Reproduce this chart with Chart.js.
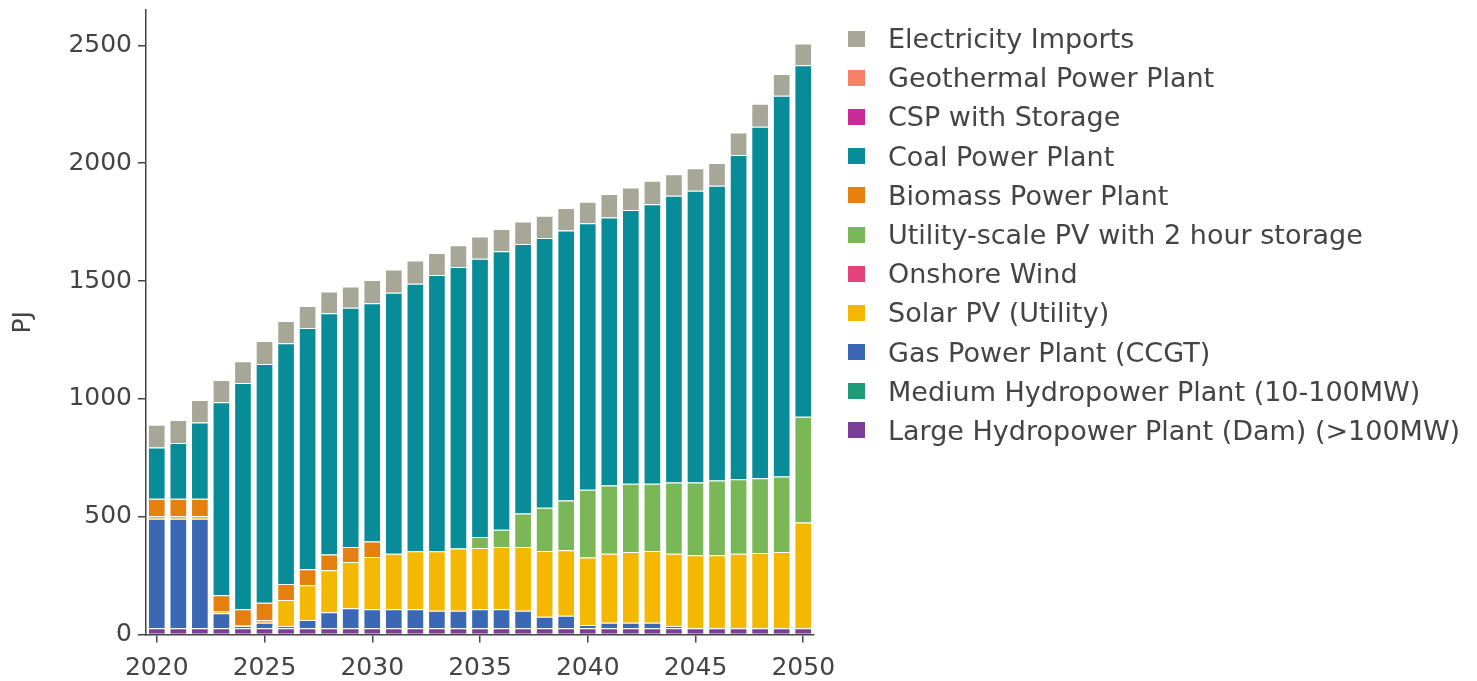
<!DOCTYPE html>
<html>
<head>
<meta charset="utf-8">
<script src="https://cdn.jsdelivr.net/npm/chart.js@4.4.1/dist/chart.umd.min.js"></script>
<style>
  body { margin: 0; background: #fff; }
  #wrap { position: relative; width: 1477px; height: 681px; }
  #legend { position: absolute; left: 848px; top: 19px; font-family: "DejaVu Sans", Verdana, sans-serif; font-size: 27px; color: #444; }
  #legend div { height: 39.2px; display: flex; align-items: center; white-space: nowrap; }
  #legend span.box { display: inline-block; width: 17px; height: 16px; margin-right: 23px; }
</style>
</head>
<body>
<div id="wrap">
  <canvas id="chart" width="1477" height="681"></canvas>
  <div id="legend"></div>
</div>
<script>
const years = [];
for (let y = 2020; y <= 2050; y++) years.push(String(y));

const largeHydro = [26, 26, 26, 26, 26, 26, 26, 26, 26, 26, 26, 26, 26, 26, 26, 26, 26, 26, 26, 26, 26, 26, 26, 26, 26, 26, 26, 26, 26, 26, 26];
const mediumHydro = [0, 0, 0, 0, 0, 0, 0, 0, 0, 0, 0, 0, 0, 0, 0, 0, 0, 0, 0, 0, 0, 0, 0, 0, 0, 0, 0, 0, 0, 0, 0];
const gasCcgt = [465, 465, 465, 64, 10, 24, 10, 35, 68, 85, 81, 81, 81, 75, 75, 81, 81, 75, 49, 54, 14, 24, 24, 24, 10, 0, 0, 0, 0, 0, 0];
const solarPv = [12, 12, 12, 8, 4, 11, 110, 148, 179, 197, 222, 236, 246, 252, 264, 260, 264, 270, 279, 277, 287, 293, 300, 304, 307, 310, 310, 317, 320, 324, 449];
const onshoreWind = [0, 0, 0, 0, 0, 0, 0, 0, 0, 0, 0, 0, 0, 0, 0, 0, 0, 0, 0, 0, 0, 0, 0, 0, 0, 0, 0, 0, 0, 0, 0];
const pvStorage = [0, 0, 0, 0, 0, 0, 0, 0, 0, 0, 0, 0, 0, 0, 0, 47, 74, 142, 184, 212, 287, 289, 290, 286, 302, 309, 318, 316, 317, 320, 449];
const biomass = [73, 73, 73, 69, 67, 74, 68, 68, 67, 63, 66, 0, 0, 0, 0, 0, 0, 0, 0, 0, 0, 0, 0, 0, 0, 0, 0, 0, 0, 0, 0];
const coal = [218, 237, 324, 818, 960, 1013, 1022, 1024, 1023, 1016, 1011, 1107, 1135, 1172, 1194, 1180, 1181, 1144, 1145, 1145, 1131, 1138, 1161, 1186, 1217, 1238, 1250, 1376, 1492, 1616, 1492];
const cspStorage = [0, 0, 0, 0, 0, 0, 0, 0, 0, 0, 0, 0, 0, 0, 0, 0, 0, 0, 0, 0, 0, 0, 0, 0, 0, 0, 0, 0, 0, 0, 0];
const geothermal = [0, 0, 0, 0, 0, 0, 0, 0, 0, 0, 0, 0, 0, 0, 0, 0, 0, 0, 0, 0, 0, 0, 0, 0, 0, 0, 0, 0, 0, 0, 0];
const imports = [96, 97, 95, 95, 93, 97, 94, 93, 93, 90, 98, 99, 99, 94, 93, 95, 95, 96, 94, 96, 91, 99, 96, 99, 91, 96, 97, 95, 97, 92, 92];

const yTicks = [0, 500, 1000, 1500, 2000, 2500];

const TEXT = '#444';
const FONT = '"DejaVu Sans", Verdana, sans-serif';

function series(label, data, color) {
  return {
    label, data,
    backgroundColor: color,
    borderColor: '#fff',
    borderWidth: 1,
    barPercentage: 0.82,
    categoryPercentage: 1.0,
  };
}

const datasets = [
  series('Large Hydropower Plant (Dam) (>100MW)', largeHydro, '#7b3f96'),
  series('Medium Hydropower Plant (10-100MW)', mediumHydro, '#1c9c78'),
  series('Gas Power Plant (CCGT)', gasCcgt, '#3a68b4'),
  series('Solar PV (Utility)', solarPv, '#f4b800'),
  series('Onshore Wind', onshoreWind, '#e2437a'),
  series('Utility-scale PV with 2 hour storage', pvStorage, '#7ab857'),
  series('Biomass Power Plant', biomass, '#e5800f'),
  series('Coal Power Plant', coal, '#078c98'),
  series('CSP with Storage', cspStorage, '#c92a93'),
  series('Geothermal Power Plant', geothermal, '#f7806a'),
  series('Electricity Imports', imports, '#a6a797'),
];

const chart = new Chart(document.getElementById('chart'), {
  type: 'bar',
  data: { labels: years, datasets },
  options: {
    responsive: false,
    animation: false,
    layout: { padding: { top: 10, right: 663, bottom: 0, left: 0 } },
    plugins: { legend: { display: false }, tooltip: { enabled: false } },
    scales: {
      x: {
        stacked: true,
        offset: true,
        grid: {
          offset: false,
          drawOnChartArea: false,
          tickLength: 8,
          lineWidth: 1.5,
          color: (ctx) => (ctx.index % 5 === 0 ? TEXT : 'rgba(0,0,0,0)'),
        },
        border: { color: TEXT, width: 1.5 },
        ticks: {
          autoSkip: false,
          maxRotation: 0,
          color: TEXT,
          font: { family: FONT, size: 25 },
          padding: 11,
          callback: function (v, i) { return i % 5 === 0 ? years[i] : ''; },
        },
        afterFit: (s) => { s.height = 46.5; },
      },
      y: {
        stacked: true,
        min: 0,
        max: 2650,
        afterBuildTicks: (s) => { s.ticks = yTicks.map(v => ({ value: v })); },
        grid: { drawOnChartArea: false, tickLength: 8, lineWidth: 1.5, color: TEXT },
        border: { color: TEXT, width: 1.5 },
        ticks: {
          color: TEXT,
          font: { family: FONT, size: 25 },
          padding: 6,
          callback: (v) => String(v),
        },
        title: { display: true, text: 'PJ', color: TEXT, font: { family: FONT, size: 25 }, padding: { top: 8, bottom: 0 } },
        afterFit: (s) => { s.width = 146; s.paddingTop = 0; s.paddingBottom = 0; },
      },
    },
  },
});

// html legend, top of stack first
const legendEl = document.getElementById('legend');
chart.data.datasets.slice().reverse().forEach((ds) => {
  const row = document.createElement('div');
  const box = document.createElement('span');
  box.className = 'box';
  box.style.background = ds.backgroundColor;
  row.appendChild(box);
  row.appendChild(document.createTextNode(ds.label));
  legendEl.appendChild(row);
});
</script>
</body>
</html>
